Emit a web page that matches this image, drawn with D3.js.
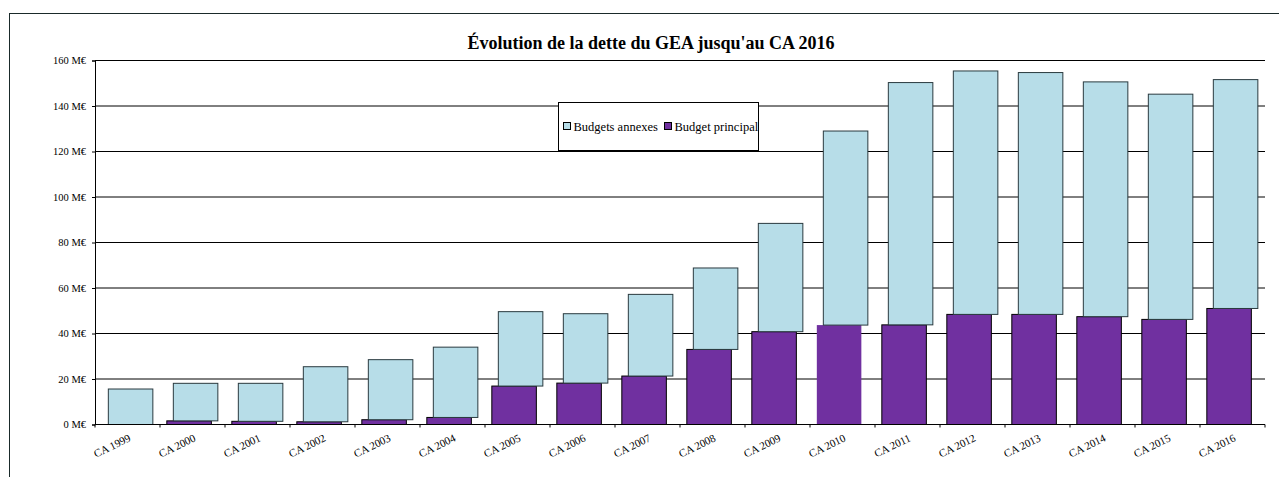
<!DOCTYPE html>
<html><head><meta charset="utf-8">
<script src="https://cdn.jsdelivr.net/npm/d3@7"></script>
<style>html,body{margin:0;padding:0;background:#fff;}svg{display:block;}</style>
</head><body>
<svg id="chart" width="1279" height="477"></svg>
<script>
const categories = ["CA 1999","CA 2000","CA 2001","CA 2002","CA 2003","CA 2004","CA 2005","CA 2006","CA 2007","CA 2008","CA 2009","CA 2010","CA 2011","CA 2012","CA 2013","CA 2014","CA 2015","CA 2016"];
const budgetPrincipal = [0, 1.6, 1.4, 1.2, 2.1, 3.1, 16.9, 18.2, 21.3, 33.0, 40.8, 43.7, 43.8, 48.4, 48.4, 47.4, 46.2, 51.0];
const budgetsAnnexes = [15.6, 16.5, 16.7, 24.2, 26.4, 30.9, 32.7, 30.5, 35.9, 35.8, 47.6, 85.3, 106.5, 107.0, 106.3, 103.2, 99.0, 100.6];
const yTicks = [0, 20, 40, 60, 80, 100, 120, 140, 160];
const seriesNames = ["Budgets annexes", "Budget principal"];
const title = "Évolution de la dette du GEA jusqu'au CA 2016";

const colAnnexes = "#B7DDE8", colPrincipal = "#7030A0";
const serif = "'Liberation Serif','Times New Roman',serif";

const svg = d3.select("#chart");
// outer frame
svg.append("rect").attr("x", 9.5).attr("y", 13.5).attr("width", 1300).attr("height", 500)
  .attr("fill", "none").attr("stroke", "#1a2a2a").attr("stroke-width", 1);

const x = d3.scaleBand().domain(categories).range([95, 1265]).padding(0);
const y = d3.scaleLinear().domain([0, 160]).range([424.5, 60.5]);

// gridlines
svg.append("g").selectAll("line").data(yTicks.filter(t => t > 0)).join("line")
  .attr("x1", 95).attr("x2", 1265).attr("y1", d => y(d)).attr("y2", d => y(d))
  .attr("stroke", "#000").attr("stroke-width", 1);

// y axis
const yAxis = d3.axisLeft(y).tickValues(yTicks).tickFormat(d => d + " M€").tickSize(3).tickPadding(6);
const gy = svg.append("g").attr("transform", "translate(95,0)").call(yAxis);
gy.select(".domain").attr("stroke", "#000");
gy.selectAll(".tick line").attr("stroke", "#000");
gy.selectAll("text").attr("font-family", serif).attr("font-size", "10.5px").attr("fill", "#000");

const bw = x.bandwidth();
const data = categories.map((c, i) => ({cat: c, p: budgetPrincipal[i], a: budgetsAnnexes[i]}));

// principal bars
svg.append("g").selectAll("rect").data(data.filter(d => d.p > 0)).join("rect")
  .attr("x", d => x(d.cat) + bw * 0.105)
  .attr("width", bw * 0.685)
  .attr("y", d => y(d.p))
  .attr("height", d => y(0) - y(d.p))
  .attr("fill", colPrincipal)
  .attr("stroke", d => d.cat === "CA 2010" ? "none" : "#000")
  .attr("stroke-width", 1);

// annexes bars (stacked on principal, shifted)
svg.append("g").selectAll("rect").data(data).join("rect")
  .attr("x", d => x(d.cat) + bw * 0.205)
  .attr("width", bw * 0.685)
  .attr("y", d => y(d.p + d.a))
  .attr("height", d => y(d.p) - y(d.p + d.a))
  .attr("fill", colAnnexes)
  .attr("stroke", "#2a3a3f")
  .attr("stroke-width", 1);

// x axis
const gx = svg.append("g").attr("transform", "translate(0,424.5)");
gx.append("line").attr("x1", 95).attr("x2", 1265).attr("stroke", "#000");
gx.selectAll("line.tk").data(categories.concat(["end"])).join("line").attr("class", "tk")
  .attr("x1", (d, i) => 95 + i * bw).attr("x2", (d, i) => 95 + i * bw)
  .attr("y1", 0).attr("y2", 3).attr("stroke", "#000");
gx.selectAll("text").data(categories).join("text")
  .attr("transform", d => `translate(${x(d) + bw / 2 + 4},${16}) rotate(-26)`)
  .attr("text-anchor", "end")
  .attr("font-family", serif).attr("font-size", "11px").attr("fill", "#000")
  .text(d => d);

// title
svg.append("text").attr("x", 651).attr("y", 49).attr("text-anchor", "middle")
  .attr("font-family", serif).attr("font-size", "18px").attr("font-weight", "bold").attr("fill", "#000")
  .text(title);

// legend
const lg = svg.append("g");
lg.append("rect").attr("x", 558.5).attr("y", 102.5).attr("width", 200).attr("height", 48)
  .attr("fill", "#fff").attr("stroke", "#000");
const items = [{name: seriesNames[0], color: colAnnexes, x: 563.5}, {name: seriesNames[1], color: colPrincipal, x: 664.5}];
items.forEach(it => {
  lg.append("rect").attr("x", it.x).attr("y", 122.5).attr("width", 7).attr("height", 7)
    .attr("fill", it.color).attr("stroke", "#000");
  lg.append("text").attr("x", it.x + 10).attr("y", 130.5).attr("font-family", serif)
    .attr("font-size", "12.5px").attr("fill", "#000").text(it.name);
});
</script>
</body></html>
